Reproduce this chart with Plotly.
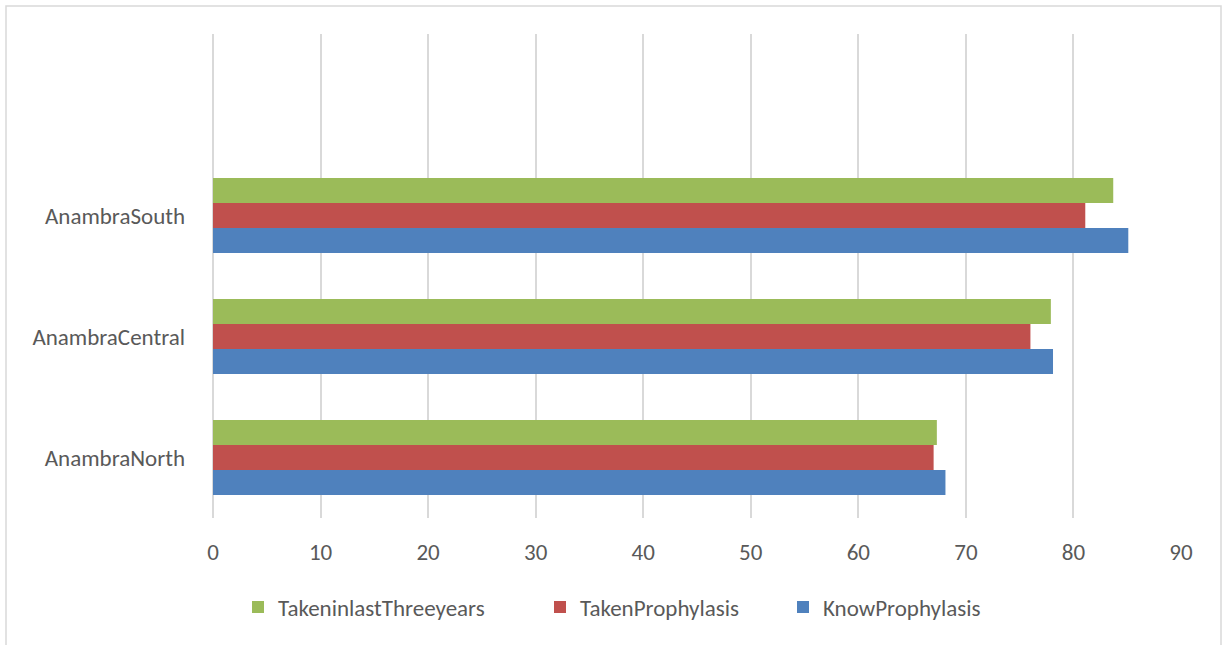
import plotly.graph_objects as go

categories = ["AnambraNorth", "AnambraCentral", "AnambraSouth"]
know_prophylasis = [68.1, 78.1, 85.1]
taken_prophylasis = [67.0, 76.0, 81.1]
taken_last_three_years = [67.3, 77.9, 83.7]
x_ticks = [0, 10, 20, 30, 40, 50, 60, 70, 80, 90]

W, H = 1224, 645
L, R, T, B = 213, 1181, 34, 518
pw, ph = R - L, B - T

font_family = "Carlito, Lato, Liberation Sans"
txt_color = "#595959"
fs = 23

fig = go.Figure()
fig.add_trace(go.Bar(y=categories, x=know_prophylasis, orientation="h",
                     name="KnowProphylasis", marker=dict(color="#4F81BD", line=dict(width=0)),
                     legend="legend3"))
fig.add_trace(go.Bar(y=categories, x=taken_prophylasis, orientation="h",
                     name="TakenProphylasis", marker=dict(color="#C0504D", line=dict(width=0)),
                     legend="legend2"))
fig.add_trace(go.Bar(y=categories, x=taken_last_three_years, orientation="h",
                     name="TakeninlastThreeyears", marker=dict(color="#9BBB59", line=dict(width=0)),
                     legend="legend"))

def leg(sym_left):
    return dict(orientation="h", x=(sym_left - 18 - L) / pw, xanchor="left",
                y=(B - 607) / ph, yanchor="middle", bgcolor="rgba(0,0,0,0)",
                font=dict(family=font_family, size=fs, color=txt_color))

fig.update_layout(
    width=W, height=H,
    margin=dict(l=L, r=W - R, t=T, b=H - B, pad=0),
    paper_bgcolor="white", plot_bgcolor="white",
    barmode="group", bargap=0.38, bargroupgap=0,
    font=dict(family=font_family, size=fs, color=txt_color),
    showlegend=True,
    legend=leg(256), legend2=leg(558), legend3=leg(801),
    shapes=[dict(type="rect", xref="paper", yref="paper",
                 x0=(6 - L) / pw, x1=(1221 - L) / pw,
                 y0=(B - 700) / ph, y1=(B - 6) / ph,
                 line=dict(color="#D9D9D9", width=1.5), fillcolor="rgba(0,0,0,0)", layer="below")],
)
fig.update_xaxes(range=[0, 90], tickvals=x_ticks, showgrid=True, gridcolor="#D9D9D9", gridwidth=1.5,
                 zeroline=True, zerolinecolor="#D9D9D9", zerolinewidth=1.5, showline=False,
                 ticks="", ticklabelstandoff=18, tickfont=dict(size=fs, color=txt_color))
fig.update_yaxes(range=[-0.5, 3.5], categoryorder="array", categoryarray=categories,
                 showgrid=False, zeroline=False, showline=False, ticks="",
                 ticklabelstandoff=27, tickfont=dict(size=fs, color=txt_color))

fig.write_html("out.html")
